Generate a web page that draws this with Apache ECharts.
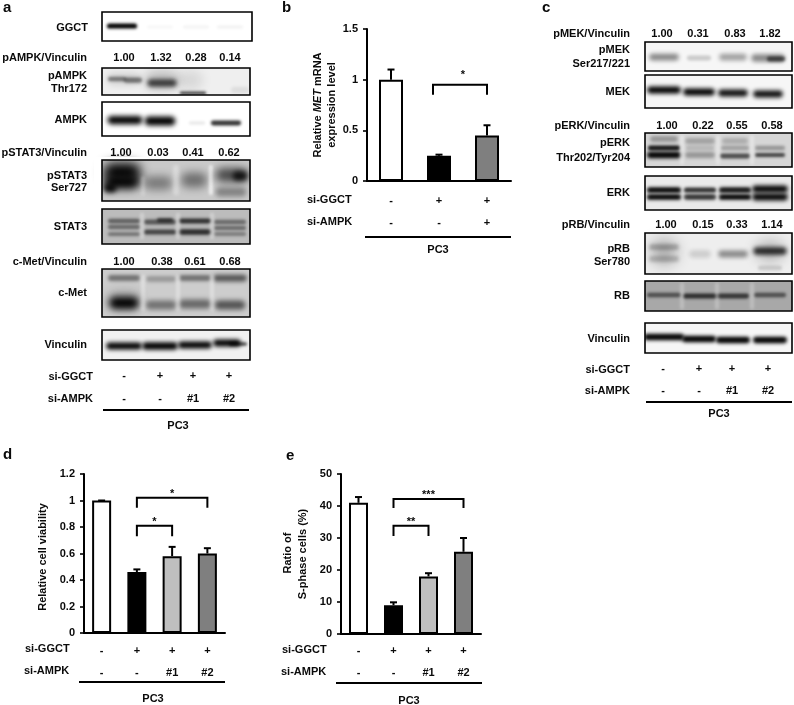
<!DOCTYPE html>
<html><head><meta charset="utf-8">
<style>html,body{margin:0;padding:0;background:#fff}#c{width:794px;height:705px}</style>
<script src="https://cdn.jsdelivr.net/npm/echarts@6/dist/echarts.min.js"></script></head>
<body><div id="c"></div>
<script>
// ---- data ----
const siGGCT3 = ['-', '+', '+'];
const siAMPK3 = ['-', '-', '+'];
const siGGCT4 = ['-', '+', '+', '+'];
const siAMPK4 = ['-', '-', '#1', '#2'];
const metValues = [1.00, 0.25, 0.45];
const metUpper = [1.10, 0.26, 0.55];
const viabilityValues = [1.00, 0.46, 0.58, 0.60];
const viabilityUpper = [1.00, 0.48, 0.65, 0.64];
const sPhaseValues = [41, 9, 18, 25.7];
const sPhaseUpper = [42.8, 9.9, 19, 30];
const metBrackets = [[1, 2, 0.95, 0.85, '*']];
const viabilityBrackets = [[1, 3, 1.02, 0.945, '*'], [1, 2, 0.81, 0.73, '*']];
const sPhaseBrackets = [[1, 3, 42.2, 39.4, '***'], [1, 2, 33.8, 30.6, '**']];
const pAMPKRatio = ['1.00', '1.32', '0.28', '0.14'];
const pSTAT3Ratio = ['1.00', '0.03', '0.41', '0.62'];
const cMetRatio = ['1.00', '0.38', '0.61', '0.68'];
const pMEKRatio = ['1.00', '0.31', '0.83', '1.82'];
const pERKRatio = ['1.00', '0.22', '0.55', '0.58'];
const pRBRatio = ['1.00', '0.15', '0.33', '1.14'];

// ---- styling and layout ----
const FONT = 'bold 11px "Liberation Sans", Arial, sans-serif';
const FAM = '"Liberation Sans", Arial, sans-serif';
const INK = '#0a0a0a';
const barFill = ['#ffffff', '#000000', '#bfbfbf', '#7f7f7f'];
const barFill3 = ['#ffffff', '#000000', '#7f7f7f'];
const SHADOW_SHIFT = 2000;

const g = [];
function txt(s, x, y, align, size, rot) {
  const el = {
    type: 'text', z: 20,
    style: { text: s, x: 0, y: 0, font: size ? 'bold ' + size + 'px ' + FAM : FONT, fill: INK,
      align: align || 'center', textAlign: align || 'center', verticalAlign: 'middle', textVerticalAlign: 'middle' },
    x: x, y: y
  };
  if (rot) el.rotation = rot;
  g.push(el);
}
function rule(x0, x1, y) {
  g.push({ type: 'line', z: 20, shape: { x1: x0, y1: y, x2: x1, y2: y }, style: { stroke: '#000', lineWidth: 2 } });
}
// a soft band: only the blurred shadow of a shape parked off-canvas is visible
function band(b) {
  const [cx, cy, rx, ry, a] = b;
  const rgb = a < 0 ? '255,255,255' : '0,0,0';
  const al = Math.abs(a);
  const blur = Math.max(3, Math.min(rx, ry) * 0.9);
  const hw = Math.max(1, rx - blur * 0.3), hh = Math.max(0.8, ry * 0.75);
  g.push({
    type: 'rect', z: 5,
    shape: { x: cx - hw - SHADOW_SHIFT, y: cy - hh, width: 2 * hw, height: 2 * hh, r: hh },
    style: { fill: '#000', shadowColor: `rgba(${rgb},${al})`, shadowBlur: blur, shadowOffsetX: SHADOW_SHIFT }
  });
}
function blot(x0, y0, x1, y1, bg, bands) {
  g.push({ type: 'rect', z: 4, shape: { x: x0, y: y0, width: x1 - x0, height: y1 - y0 }, style: { fill: bg } });
  bands.forEach(band);
  // margins that keep the soft band edges inside the frame
  [[x0 - 8, y0 - 3, x1 - x0 + 16, 3], [x0 - 8, y1, x1 - x0 + 16, 3], [x0 - 8, y0, 8, y1 - y0], [x1, y0, 8, y1 - y0]].forEach(r => {
    g.push({ type: 'rect', z: 8, shape: { x: r[0], y: r[1], width: r[2], height: r[3] }, style: { fill: '#fff' } });
  });
  g.push({ type: 'rect', z: 9, shape: { x: x0, y: y0, width: x1 - x0, height: y1 - y0 },
    style: { fill: 'none', stroke: '#000', lineWidth: 1.6 } });
}
function ratioRow(vals, xs, y) { vals.forEach((v, i) => txt(v, xs[i], y)); }
function signRow(vals, xs, y) { vals.forEach((v, i) => txt(v, xs[i], y)); }

// panel letters
txt('a', 3, 8, 'left', 15); txt('b', 282, 8, 'left', 15); txt('c', 542, 8, 'left', 15);
txt('d', 3, 455, 'left', 15); txt('e', 286, 456, 'left', 15);

// panel a
const LA = 87;
blot(102, 12, 252, 41, '#ffffff', [[122, 26, 16, 3.4, 1], [160, 27, 14, 2, .04], [196, 27, 14, 2, .05], [230, 27, 14, 2, .06]]);
txt('GGCT', 88, 28, 'right');
txt('pAMPK/Vinculin', LA, 58, 'right');
ratioRow(pAMPKRatio, [124, 161, 196, 230], 58);
blot(102, 68, 250, 95, '#efefef', [[124, 79, 19, 8, .12], [117, 79, 10, 3, .45], [133, 80, 10, 3.5, .5], [162, 80, 20, 12, .22], [162, 83, 16, 5, .7],
  [190, 80, 16, 12, .1], [193, 93, 14, 1.6, .85], [240, 90, 10, 4, .08]]);
txt('pAMPK', LA, 76, 'right'); txt('Thr172', LA, 89, 'right');
blot(102, 102, 250, 136, '#ffffff', [[125, 120, 19, 5.5, 1], [160, 121, 17, 6, 1], [197, 123, 9, 2, .1], [226, 123, 16, 3.2, .8]]);
txt('AMPK', LA, 120, 'right');
txt('pSTAT3/Vinculin', LA, 153, 'right');
ratioRow(pSTAT3Ratio, [121, 158, 193, 229], 153);
blot(102, 160, 250, 201, '#c9c9c9', [[122, 172, 22, 12, 1], [122, 182, 20, 9, 1], [110, 188, 8, 6, .9],
  [158, 183, 17, 9, .4], [194, 180, 16, 10, .45], [211, 180, 3, 20, -.7],
  [232, 175, 19, 9, .65], [240, 176, 9, 6, .8], [231, 192, 17, 6, .35], [176, 180, 4, 20, -.35], [143, 186, 3, 13, -.25]]);
txt('pSTAT3', LA, 176, 'right'); txt('Ser727', LA, 188, 'right');
blot(102, 209, 250, 244, '#bcbcbc', [[124, 221, 17, 3, .5], [124, 227, 17, 3, .45], [124, 234, 17, 2.5, .4],
  [160, 222, 17, 3.2, .55], [165, 220, 9, 2.6, .6], [160, 232, 17, 3.4, .65], [195, 221, 17, 3.2, .75], [195, 232, 17, 3.6, .8],
  [230, 222, 17, 3, .45], [230, 228, 17, 2.6, .45], [230, 234, 17, 2.6, .35],
  [142, 226, 3, 18, -.3], [178, 226, 3, 18, -.3], [212, 226, 3, 18, -.3]]);
txt('STAT3', LA, 227, 'right');
txt('c-Met/Vinculin', LA, 262, 'right');
ratioRow(cMetRatio, [124, 162, 195, 230], 262);
blot(102, 269, 250, 317, '#cdcdcd', [[124, 278, 17, 4, .45], [161, 279, 16, 4, .25], [195, 278, 17, 4, .45], [230, 278, 18, 4.5, .6],
  [124, 303, 17, 8, 1], [124, 300, 20, 12, .2], [161, 305, 17, 6, .45], [195, 304, 18, 6, .5], [230, 305, 17, 6, .6],
  [143, 293, 3, 24, -.35], [178, 293, 3, 24, -.35], [212, 293, 3, 24, -.35]]);
txt('c-Met', LA, 293, 'right');
blot(102, 330, 250, 360, '#f1f1f1', [[124, 346, 19, 4.6, 1], [160, 346, 19, 5, 1], [195, 345, 18, 4.6, 1], [227, 343, 15, 4.6, 1], [238, 344, 10, 2.4, .7]]);
txt('Vinculin', LA, 345, 'right');
txt('si-GGCT', 93, 377, 'right'); txt('si-AMPK', 93, 399, 'right');
signRow(siGGCT4, [124, 160, 193, 229], 376);
signRow(siAMPK4, [124, 160, 193, 229], 399);
rule(103, 249, 410); txt('PC3', 178, 426);

// panel c
const LC = 630;
txt('pMEK/Vinculin', LC, 34, 'right');
ratioRow(pMEKRatio, [662, 698, 735, 770], 34);
blot(645, 42, 792, 71, '#f6f6f6', [[664, 57, 16, 4.5, .45], [699, 58, 13, 3.2, .18], [733, 57, 15, 4.5, .35], [768, 58, 18, 5, .45], [776, 59, 10, 3.2, .6]]);
txt('pMEK', LC, 50, 'right'); txt('Ser217/221', LC, 64, 'right');
blot(645, 75, 792, 108, '#f6f6f6', [[664, 90, 18, 4.6, 1], [699, 92, 17, 4.6, 1], [733, 93, 16, 4.6, .95], [768, 94, 16, 4.6, .95]]);
txt('MEK', LC, 92, 'right');
txt('pERK/Vinculin', LC, 126, 'right');
ratioRow(pERKRatio, [667, 703, 737, 772], 126);
blot(645, 133, 792, 167, '#d6d6d6', [[664, 148, 17, 3.2, .9], [664, 155, 18, 4.2, 1], [664, 139, 15, 4, .3],
  [700, 141, 16, 4, .25], [700, 148, 15, 3, .15], [700, 155, 16, 4, .3],
  [735, 141, 14, 4, .2], [735, 148, 15, 3, .25], [735, 156, 16, 3.2, .65],
  [770, 148, 16, 3, .3], [770, 155, 16, 2.6, .7], [682, 150, 3, 20, -.35], [718, 150, 3, 20, -.35], [752, 150, 3, 20, -.35]]);
txt('pERK', LC, 143, 'right'); txt('Thr202/Tyr204', LC, 158, 'right');
blot(645, 176, 792, 210, '#eaeaea', [[664, 190, 18, 3.8, 1], [664, 197, 18, 3.8, 1], [700, 190, 17, 3.4, .8], [700, 197, 17, 3.6, .8],
  [735, 190, 17, 3.8, .95], [735, 197, 17, 3.8, 1], [770, 189, 19, 4.6, 1], [770, 197, 19, 4.6, 1]]);
txt('ERK', LC, 193, 'right');
txt('pRB/Vinculin', LC, 225, 'right');
ratioRow(pRBRatio, [666, 703, 737, 772], 225);
blot(645, 233, 792, 274, '#eeeeee', [[664, 252, 17, 17, .3], [664, 247, 16, 4, .25], [664, 259, 16, 4, .2],
  [700, 254, 12, 5, .14], [733, 254, 16, 4.6, .42], [770, 251, 18, 14, .22], [770, 251, 18, 5, .8], [770, 268, 13, 3, .15]]);
txt('pRB', LC, 249, 'right'); txt('Ser780', LC, 262, 'right');
blot(645, 281, 792, 311, '#a8a8a8', [[664, 295, 18, 3, .55], [700, 296, 18, 3.4, .75], [733, 296, 17, 3.2, .7], [770, 295, 17, 3, .55],
  [682, 296, 3, 18, -.25], [717, 296, 3, 18, -.25], [752, 296, 3, 18, -.25]]);
txt('RB', LC, 296, 'right');
blot(645, 323, 792, 353, '#f6f6f6', [[664, 337, 21, 4.2, 1], [699, 339, 18, 4.2, 1], [733, 340, 18, 4.2, 1], [770, 340, 18, 4.2, 1]]);
txt('Vinculin', LC, 339, 'right');
txt('si-GGCT', LC, 370, 'right'); txt('si-AMPK', LC, 391, 'right');
signRow(siGGCT4, [663, 699, 732, 768], 369);
signRow(siAMPK4, [663, 699, 732, 768], 391);
rule(646, 792, 402); txt('PC3', 719, 414);

// chart row labels and axis titles
txt('si-GGCT', 307, 200, 'left'); txt('si-AMPK', 307, 222, 'left');
rule(365, 511, 237); txt('PC3', 438, 250);
g.push({ type: 'text', z: 20, x: 318, y: 105, rotation: Math.PI / 2,
  style: { text: '{a|Relative }{i|MET}{a| mRNA}', fill: INK, align: 'center', textAlign: 'center', verticalAlign: 'middle', textVerticalAlign: 'middle',
    rich: { a: { font: FONT, fill: INK }, i: { font: 'italic ' + FONT, fill: INK } } } });
txt('expression level', 332, 105, 'center', 11, Math.PI / 2);

txt('si-GGCT', 25, 649, 'left'); txt('si-AMPK', 24, 671, 'left');
rule(79, 225, 682); txt('PC3', 153, 699);
txt('Relative cell viability', 43, 557, 'center', 11, Math.PI / 2);

txt('si-GGCT', 282, 650, 'left'); txt('si-AMPK', 281, 672, 'left');
rule(336, 482, 683); txt('PC3', 409, 701);
txt('Ratio of', 288, 553, 'center', 11, Math.PI / 2);
txt('S-phase cells (%)', 303, 554, 'center', 11, Math.PI / 2);

// ---- charts ----
const grids = [
  { left: 367, top: 29, width: 144, height: 152 },
  { left: 84, top: 474, width: 141, height: 159 },
  { left: 341, top: 474, width: 140, height: 160 }
];
const labelMargins = [9, 7, 6];
const xAxes = [[siGGCT3, siAMPK3], [siGGCT4, siAMPK4], [siGGCT4, siAMPK4]].map((rows, i) => ({
  type: 'category', gridIndex: i, data: rows[0].map((s, k) => s + '\n' + rows[1][k]),
  axisLine: { lineStyle: { color: '#000', width: 2 } }, axisTick: { show: false },
  axisLabel: { interval: 0, margin: labelMargins[i], lineHeight: 22, color: INK, fontFamily: FAM, fontWeight: 'bold', fontSize: 11 }
}));
const yAxes = [[1.5, 0.5], [1.2, 0.2], [50, 10]].map((a, i) => ({
  type: 'value', gridIndex: i, min: 0, max: a[0], interval: a[1], splitLine: { show: false },
  axisLine: { show: true, lineStyle: { color: '#000', width: 2 } },
  axisTick: { show: true, length: 4, lineStyle: { color: '#000', width: 1.6 } },
  axisLabel: { margin: 9, color: INK, fontFamily: FAM, fontWeight: 'bold', fontSize: 11 }
}));
function barSeries(i, vals, fills, w) {
  return { type: 'bar', xAxisIndex: i, yAxisIndex: i, barWidth: w, z: 3,
    data: vals.map((v, k) => ({ value: v, itemStyle: { color: fills[k], borderColor: '#000', borderWidth: 2 } })) };
}
function errSeries(i, vals, up) {
  return { type: 'custom', xAxisIndex: i, yAxisIndex: i, z: 2, silent: true,
    data: vals.map((v, k) => [k, v, up[k]]), encode: { x: 0, y: [1, 2] },
    renderItem(p, api) {
      const a = api.coord([api.value(0), api.value(1)]);
      const b = api.coord([api.value(0), api.value(2)]);
      const s = { stroke: '#000', lineWidth: 2, fill: 'none' };
      return { type: 'group', children: [
        { type: 'line', shape: { x1: a[0], y1: a[1], x2: b[0], y2: b[1] }, style: s },
        { type: 'line', shape: { x1: b[0] - 3.5, y1: b[1], x2: b[0] + 3.5, y2: b[1] }, style: s }
      ] };
    } };
}
function bracketSeries(i, rows, leftNudge, starDy) {
  return { type: 'custom', xAxisIndex: i, yAxisIndex: i, z: 6, silent: true, clip: false,
    data: rows.map(r => r.slice(0, 4)), encode: { x: [0, 1], y: [2, 3] },
    renderItem(p, api) {
      const t0 = api.coord([api.value(0), api.value(2)]);
      const t1 = api.coord([api.value(1), api.value(2)]);
      const yb = api.coord([api.value(0), api.value(3)])[1];
      const x0 = t0[0] + leftNudge;
      return { type: 'group', children: [
        { type: 'polyline', shape: { points: [[x0, yb], [x0, t0[1]], [t1[0], t0[1]], [t1[0], yb]] },
          style: { stroke: '#000', lineWidth: 2, fill: 'none' } },
        { type: 'text', x: (x0 + t1[0]) / 2 + (leftNudge ? 3 : 0), y: t0[1] + starDy,
          style: { text: rows[p.dataIndex][4], font: FONT, fill: INK, align: 'center', textAlign: 'center', verticalAlign: 'bottom', textVerticalAlign: 'bottom' } }
      ] };
    } };
}

const chart = echarts.init(document.getElementById('c'), null, { renderer: 'canvas', width: 794, height: 705 });
chart.setOption({
  animation: false, backgroundColor: '#fff',
  grid: grids, xAxis: xAxes, yAxis: yAxes,
  series: [
    errSeries(0, metValues, metUpper), barSeries(0, metValues, barFill3, 24), bracketSeries(0, metBrackets, -6, -4),
    errSeries(1, viabilityValues, viabilityUpper), barSeries(1, viabilityValues, barFill, 19), bracketSeries(1, viabilityBrackets, 0, 2),
    errSeries(2, sPhaseValues, sPhaseUpper), barSeries(2, sPhaseValues, barFill, 19), bracketSeries(2, sPhaseBrackets, 0, 2)
  ],
  graphic: { elements: g }
});
</script></body></html>
